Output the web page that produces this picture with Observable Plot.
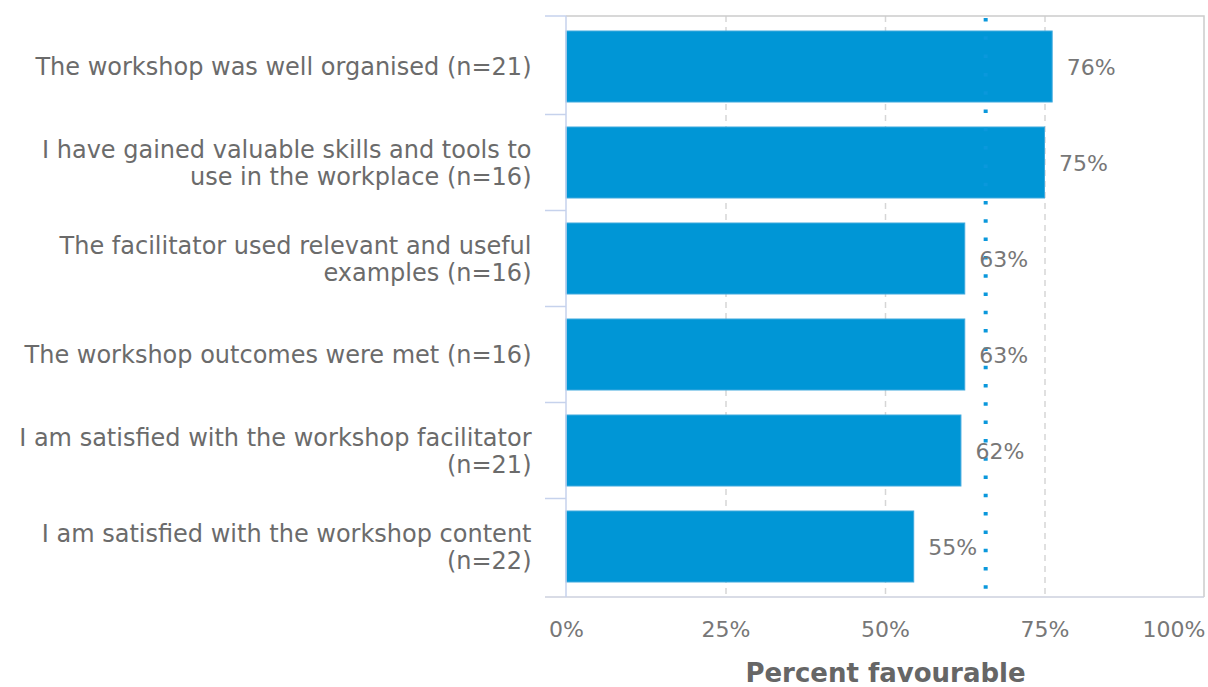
<!DOCTYPE html>
<html><head><meta charset="utf-8">
<script src="https://cdn.jsdelivr.net/npm/d3@7"></script>
<script src="https://cdn.jsdelivr.net/npm/@observablehq/plot@0.6"></script>
<style>body{margin:0;background:#fff;} svg{display:block;}</style>
</head><body><div id="chart"></div>
<script>
const categories = [
  "The workshop was well organised (n=21)",
  "I have gained valuable skills and tools to use in the workplace (n=16)",
  "The facilitator used relevant and useful examples (n=16)",
  "The workshop outcomes were met (n=16)",
  "I am satisfied with the workshop facilitator (n=21)",
  "I am satisfied with the workshop content (n=22)"
];
const labels = [
  "The workshop was well organised (n=21)",
  "I have gained valuable skills and tools to\nuse in the workplace (n=16)",
  "The facilitator used relevant and useful\nexamples (n=16)",
  "The workshop outcomes were met (n=16)",
  "I am satisfied with the workshop facilitator\n(n=21)",
  "I am satisfied with the workshop content\n(n=22)"
];
const values = [76.2, 75, 62.5, 62.5, 61.9, 54.5];
const valueLabels = ["76%", "75%", "63%", "63%", "62%", "55%"];
const xTicks = [0, 25, 50, 75, 100];
const benchmark = [65.7];
const axisTitle = "Percent favourable";

const data = categories.map((c, i) => ({category: c, label: labels[i], value: values[i], valueLabel: valueLabels[i]}));

const W = 1208, H = 687, mL = 566, mR = 4, mT = 16, mB = 90;
const FONT = "DejaVu Sans";

function frameMarks(index, scales, vals, dims) {
  const y = scales.y;
  const top = dims.marginTop, bottom = dims.height - dims.marginBottom;
  const left = dims.marginLeft, right = dims.width - dims.marginRight;
  let step, bw;
  if (y.bandwidth && y.step) { step = y.step(); bw = y.bandwidth(); }
  else { step = (bottom - top) / categories.length; bw = step * 0.74; }
  const g = d3.create("svg:g");
  g.append("path").attr("d", `M${left},${top}H${right}V${bottom}`)
    .attr("fill", "none").attr("stroke", "#cccccc").attr("stroke-width", 1.5);
  g.append("line").attr("x1", left - 21).attr("x2", right).attr("y1", bottom).attr("y2", bottom)
    .attr("stroke", "#cdd1de").attr("stroke-width", 1.5);
  g.append("line").attr("x1", left).attr("x2", left).attr("y1", top).attr("y2", bottom)
    .attr("stroke", "#c6d2ec").attr("stroke-width", 1.5);
  const ys = [top, ...categories.slice(1).map(c => y(c) - (step - bw) / 2)];
  for (const yy of ys) {
    g.append("line").attr("x1", left - 21).attr("x2", left).attr("y1", yy).attr("y2", yy)
      .attr("stroke", "#c6d2ec").attr("stroke-width", 1.5);
  }
  return g.node();
}

const chart = Plot.plot({
  width: W, height: H,
  marginLeft: mL, marginRight: mR, marginTop: mT, marginBottom: mB,
  style: {fontFamily: FONT, fontSize: "22px", color: "#6b6b6b", background: "#ffffff", overflow: "visible"},
  x: {domain: [0, 100], axis: null},
  y: {domain: categories, paddingInner: 0.26, paddingOuter: 0.15, axis: null},
  marks: [
    Plot.ruleX(xTicks.slice(1, 4), {stroke: "#d6d6d6", strokeWidth: 1.5, strokeDasharray: "6,5"}),
    Plot.barX(data, {x: "value", y: "category", fill: "#0096d6", stroke: "#3fa9de", strokeWidth: 1}),
    Plot.ruleX(benchmark, {stroke: "#0a98dc", strokeWidth: 4, strokeDasharray: "3.5,14.8", insetTop: 2, insetBottom: 8}),
    Plot.text(data, {x: "value", y: "category", text: "valueLabel", textAnchor: "start", dx: 14, dy: 1, fill: "#777777", fontSize: 22}),
    Plot.text(data, {x: 0, y: "category", text: "label", textAnchor: "end", dx: -35, lineHeight: 1.1, fill: "#6b6b6b", fontSize: 24}),
    frameMarks,
    Plot.text(xTicks.filter(d => d < 100), {x: d => d, frameAnchor: "bottom", dy: 39, text: d => d + "%", fill: "#777777", fontSize: 22}),
    Plot.text(xTicks.filter(d => d === 100), {x: d => d, frameAnchor: "bottom", dy: 39, text: d => d + "%", textAnchor: "end", dx: 1, fill: "#777777", fontSize: 22}),
    Plot.text([axisTitle], {x: 50, frameAnchor: "bottom", dy: 84, text: d => d, fontWeight: "bold", fill: "#666666", fontSize: 26})
  ]
});
document.getElementById("chart").appendChild(chart);
</script>
</body></html>
